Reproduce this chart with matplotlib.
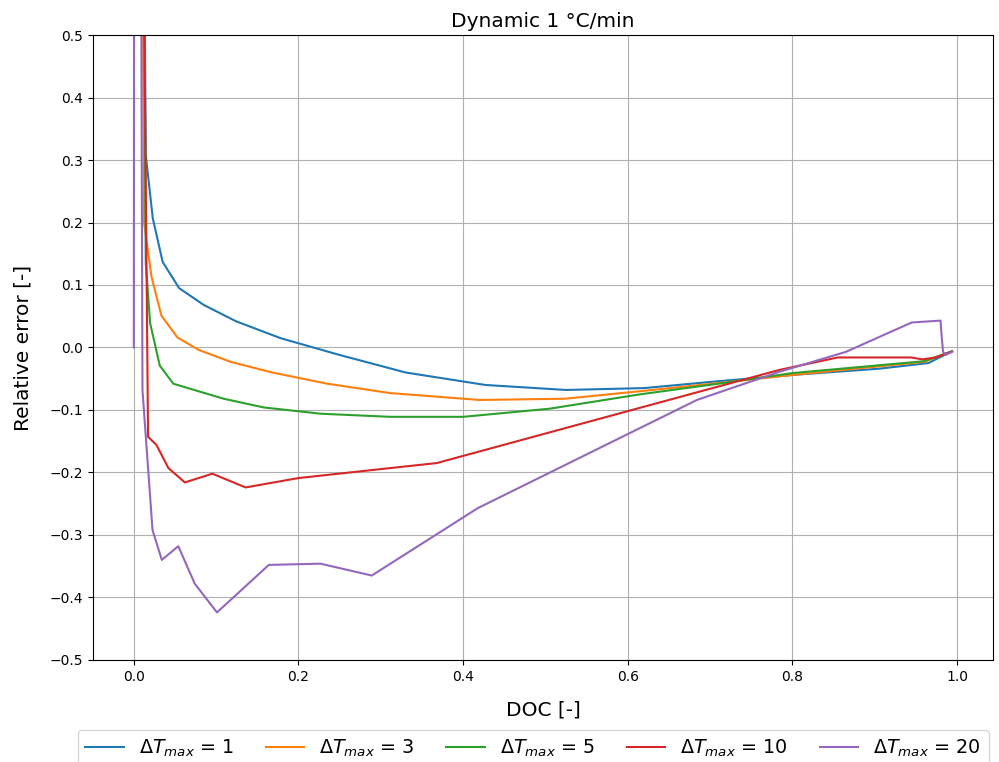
import numpy as np
import matplotlib
matplotlib.use('Agg')
import matplotlib.pyplot as plt

# DOC / relative error, one pair of arrays per curve
doc_1 = [0.0085, 0.0145, 0.023, 0.035, 0.055, 0.085, 0.124, 0.178, 0.25, 0.33,
         0.427, 0.525, 0.62, 0.71, 0.81, 0.905, 0.965, 0.994]
err_1 = [1.5, 0.308, 0.207, 0.137, 0.095, 0.068, 0.042, 0.015, -0.012, -0.04,
         -0.06, -0.068, -0.065, -0.054, -0.043, -0.034, -0.025, -0.006]

doc_3 = [0.007, 0.0125, 0.0215, 0.0335, 0.053, 0.079, 0.1176, 0.168, 0.235, 0.3115,
         0.42, 0.524, 0.615, 0.71, 0.8, 0.96, 0.994]
err_3 = [1.5, 0.199, 0.113, 0.051, 0.016, -0.004, -0.023, -0.040, -0.058, -0.073,
         -0.084, -0.082, -0.07, -0.057, -0.044, -0.023, -0.006]

doc_5 = [0.009, 0.0145, 0.0198, 0.0315, 0.048, 0.109, 0.158, 0.227, 0.3115, 0.4,
         0.505, 0.615, 0.71, 0.8, 0.96, 0.994]
err_5 = [1.5, 0.135, 0.039, -0.029, -0.058, -0.082, -0.096, -0.106, -0.111, -0.111,
         -0.098, -0.075, -0.058, -0.041, -0.022, -0.006]

doc_10 = [0.006, 0.0173, 0.0275, 0.042, 0.062, 0.0954, 0.1358, 0.2, 0.3115, 0.368,
          0.784, 0.855, 0.944, 0.958, 0.974, 0.993]
err_10 = [1.5, -0.143, -0.156, -0.193, -0.216, -0.202, -0.224, -0.209, -0.193, -0.185,
          -0.036, -0.016, -0.016, -0.019, -0.016, -0.007]

doc_20 = [0.0, 0.001, 0.008, 0.0105, 0.0227, 0.034, 0.054, 0.074, 0.101, 0.164,
          0.2267, 0.289, 0.418, 0.684, 0.784, 0.865, 0.945, 0.980, 0.981, 0.983,
          0.986, 0.994]
err_20 = [0.0, 2.0, 1.0, -0.068, -0.292, -0.34, -0.318, -0.378, -0.424, -0.348,
          -0.346, -0.365, -0.257, -0.084, -0.039, -0.007, 0.040, 0.043, 0.023, -0.007,
          -0.012, -0.007]

series = [(doc_1, err_1, 1), (doc_3, err_3, 3), (doc_5, err_5, 5),
          (doc_10, err_10, 10), (doc_20, err_20, 20)]

fig = plt.figure(figsize=(9.99, 7.62), dpi=100)
ax = fig.add_axes([0.093, 0.134, 0.901, 0.820])

for x, y, dt in series:
    ax.plot(x, y, label=r'$\Delta T_{max}$ = %d' % dt)

ax.set_ylim(-0.5, 0.5)
ax.set_yticks(np.arange(-0.5, 0.51, 0.1))
ax.set_xticks(np.arange(0, 1.01, 0.2))
ax.grid(True)
ax.set_title('Dynamic 1 °C/min', fontsize=14.5)
ax.set_xlabel('DOC [-]', fontsize=14.5, labelpad=12)
ax.set_ylabel('Relative error [-]', fontsize=14.5, labelpad=12)
# legend sits below the axes and its frame runs past the right edge, as in the original
ax.legend(loc='upper left', bbox_to_anchor=(-0.017, -0.113), borderaxespad=0,
          ncol=5, fontsize=13.8, columnspacing=1.65)

fig.savefig('out.png', dpi=100)
